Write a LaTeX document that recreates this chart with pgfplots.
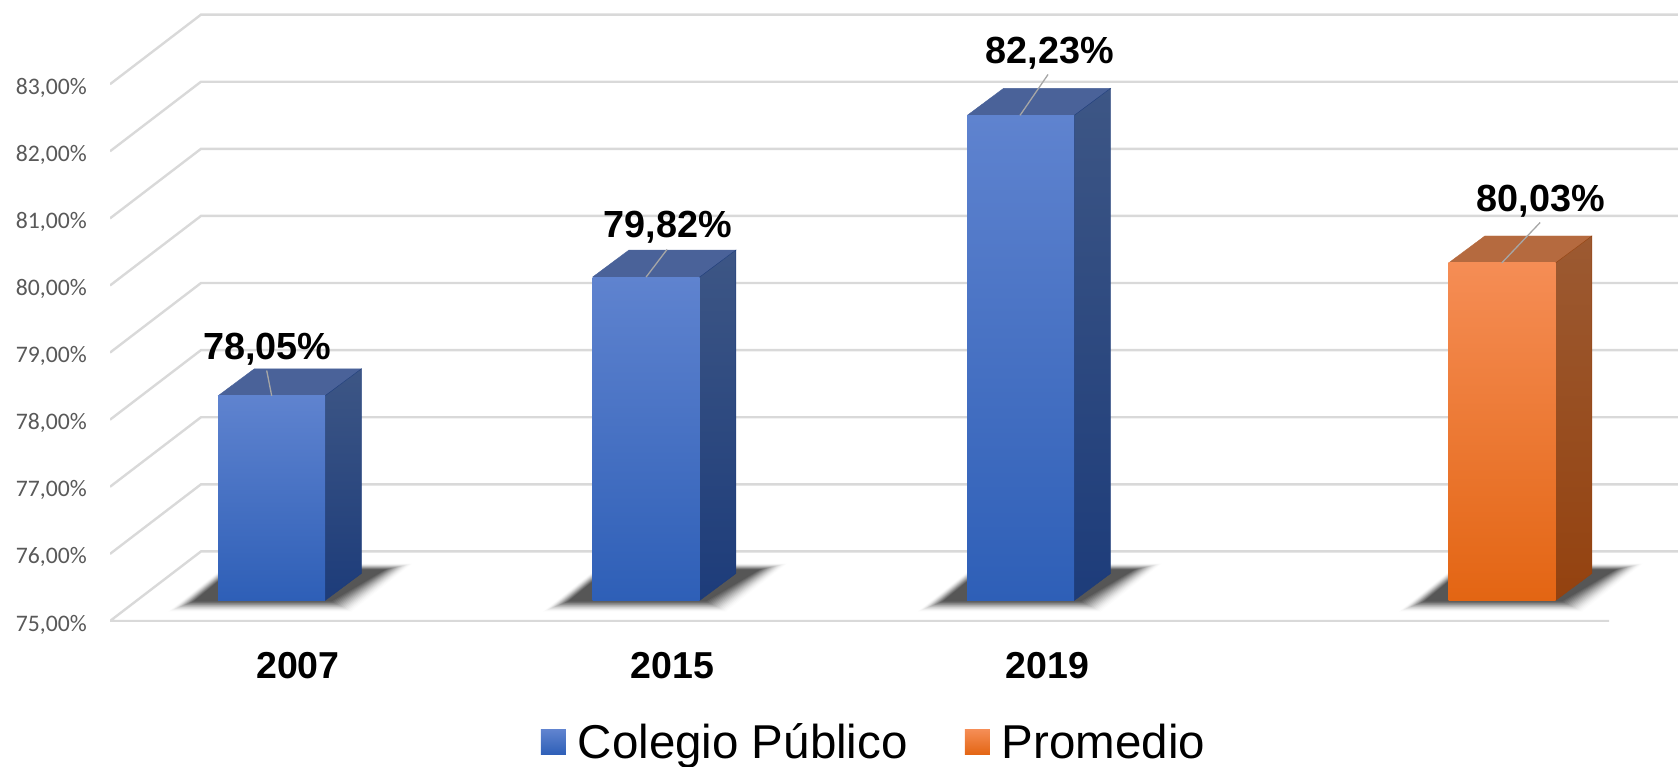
\documentclass[border=0pt]{standalone}
\usepackage{fontspec}
\usepackage{pgfplots}
\pgfplotsset{compat=1.18}
\setmainfont{Liberation Sans}
\newfontfamily\calibri{Carlito}
\definecolor{gridc}{HTML}{D9D9D9}
\definecolor{tickc}{HTML}{595959}
\definecolor{leader}{HTML}{A6A6A6}
\definecolor{bt}{HTML}{5F83CF}
\definecolor{bm}{HTML}{3B6DCA}
\definecolor{bb}{HTML}{2E5FB7}
\definecolor{btop}{HTML}{4A6299}
\definecolor{bst}{HTML}{3D5685}
\definecolor{bsb}{HTML}{1D3C7A}
\definecolor{ot}{HTML}{F58D55}
\definecolor{om}{HTML}{F57C22}
\definecolor{ob}{HTML}{E36513}
\definecolor{otop}{HTML}{B56A3F}
\definecolor{ost}{HTML}{9C5A32}
\definecolor{osb}{HTML}{94420F}
% top and side faces of a bar: centre, value, top colour, side colours
\newcommand\barfaces[5]{%
  \addplot[forget plot, no marks, fill=#3, draw=#3, line width=0.4pt] coordinates {({#1-0.14282},#2) ({#1+0.14282},#2) ({#1+0.23972},{#2+0.4024}) ({#1-0.04592},{#2+0.4024}) ({#1-0.14282},#2)};
  \addplot[forget plot, no marks, draw=#5, line width=0.4pt, top color=#4, bottom color=#5] coordinates {({#1+0.14282},75) ({#1+0.23972},75.4024) ({#1+0.23972},{#2+0.4024}) ({#1+0.14282},#2) ({#1+0.14282},75)};
}
% soft floor shadow of a bar: opacity, centre, layer
\newcommand\shadowlayer[3]{%
  \addplot[forget plot, no marks, fill=black, fill opacity=#1, draw=none] coordinates {
    ({#2+(-103+1.667*#3)/374.6},{75-(11-0.667*#3)/67.1})
    ({#2+(80-1.333*#3)/374.6},{75-(11-0.667*#3)/67.1})
    ({#2+(141-1.8*#3)/374.6},{75+(37-0.4*#3)/67.1})
    ({#2+(-43+0.267*#3)/374.6},{75+(37-0.4*#3)/67.1})};
}
\newcommand\floorshadow[1]{%
  \pgfplotsinvokeforeach{0,...,15}{%
    \pgfmathsetmacro\shop{0.01+0.0072*##1}%
    \expandafter\shadowlayer\expandafter{\shop}{#1}{##1}%
  }%
}
\begin{document}
\begin{tikzpicture}[x=1pt,y=1pt]
\path[use as bounding box] (0,0) rectangle (1678,766);
% back wall, floor and labels of the value axis
\begin{axis}[
  at={(110pt,145pt)}, anchor=south west, scale only axis,
  width=1568pt, height=621pt,
  xmin=110, xmax=1678, ymin=75, ymax=84.2548,
  axis line style={draw=none}, xtick=\empty,
  ytick={75,76,77,78,79,80,81,82,83},
  major tick length=0pt,
  yticklabel={\pgfmathprintnumber[fixed,fixed zerofill,precision=2,use comma,assume math mode=true]{\tick}\%},
  yticklabel style={anchor=east, inner sep=0pt, xshift=-23pt, yshift=-3.5pt, text=tickc, font=\calibri\fontsize{23.7}{24}\selectfont},
  gl/.style={forget plot, no marks, sharp plot, gridc, line width=2.4pt},
]
\addplot[gl] coordinates {(1609,75) (110,75) (201,76.037) (1678,76.037)};
\addplot[gl] coordinates {(110,76) (201,77.037) (1678,77.037)};
\addplot[gl] coordinates {(110,77) (201,78.037) (1678,78.037)};
\addplot[gl] coordinates {(110,78) (201,79.037) (1678,79.037)};
\addplot[gl] coordinates {(110,79) (201,80.037) (1678,80.037)};
\addplot[gl] coordinates {(110,80) (201,81.037) (1678,81.037)};
\addplot[gl] coordinates {(110,81) (201,82.037) (1678,82.037)};
\addplot[gl] coordinates {(110,82) (201,83.037) (1678,83.037)};
\addplot[gl] coordinates {(110,83) (201,84.037) (1678,84.037)};
\end{axis}
% the bars stand half way back on the floor
\begin{axis}[
  at={(110pt,165.5pt)}, anchor=south west, scale only axis,
  width=1568pt, height=600pt, clip=false,
  xmin=-0.43113, xmax=3.75467, ymin=75, ymax=83.9419,
  axis line style={draw=none}, ytick=\empty,
  xtick={0,1,2}, xticklabels={2007,2015,2019},
  major tick length=0pt,
  xticklabel style={anchor=center, inner sep=0pt, xshift=26.5pt, yshift=-65.1pt, font=\bfseries\fontsize{37.5}{37.5}\selectfont},
  legend columns=2,
  legend style={at={(0.4872,-0.2355)}, anchor=center, draw=none, fill=none, inner sep=0pt,
    font=\fontsize{47.5}{47.5}\selectfont,
    /tikz/every odd column/.append style={column sep=10pt},
    /tikz/every even column/.append style={column sep=55pt}},
  bluebar/.style={ybar, bar width=107pt, bar shift=0pt, draw=none, top color=bt, middle color=bm, bottom color=bb,
    legend image code/.code={\shade[top color=bt, bottom color=bb] (0pt,-13pt) rectangle (25pt,12pt);}},
  orangebar/.style={ybar, bar width=107pt, bar shift=106.7pt, draw=none, top color=ot, middle color=om, bottom color=ob,
    legend image code/.code={\shade[top color=ot, bottom color=ob] (0pt,-13pt) rectangle (25pt,12pt);}},
]
\floorshadow{0}
\floorshadow{1}
\floorshadow{2}
\floorshadow{3.28484}
\barfaces{0}{78.05}{btop}{bst}{bsb}
\barfaces{1}{79.82}{btop}{bst}{bsb}
\barfaces{2}{82.23}{btop}{bst}{bsb}
\barfaces{3.28484}{80.03}{otop}{ost}{osb}
\addplot[bluebar] coordinates {(0,78.05)};
\addlegendentry{Colegio Público}
\addplot[bluebar, forget plot] coordinates {(1,79.82)};
\addplot[bluebar, forget plot] coordinates {(2,82.23)};
\addplot[orangebar] coordinates {(3,80.03)};
\addlegendentry{Promedio}
\addplot[forget plot, no marks, sharp plot, leader, line width=1.3pt] coordinates {(0.0005,78.05) (-0.0128,78.428)};
\addplot[forget plot, no marks, sharp plot, leader, line width=1.3pt] coordinates {(1,79.82) (1.0558,80.231)};
\addplot[forget plot, no marks, sharp plot, leader, line width=1.3pt] coordinates {(1.9981,82.23) (2.0729,82.839)};
\addplot[forget plot, no marks, sharp plot, leader, line width=1.3pt] coordinates {(3.2840,80.03) (3.3865,80.633)};
\tikzset{vlabel/.style={font=\bfseries\fontsize{37.8}{37.8}\selectfont, inner sep=0pt}}
\node[vlabel] at (axis cs:-0.0107,78.745) {78,05\%};
\node[vlabel] at (axis cs:1.0585,80.563) {79,82\%};
\node[vlabel] at (axis cs:2.0770,83.152) {82,23\%};
\node[vlabel] at (axis cs:3.3880,80.946) {80,03\%};
\end{axis}
\end{tikzpicture}
\end{document}
